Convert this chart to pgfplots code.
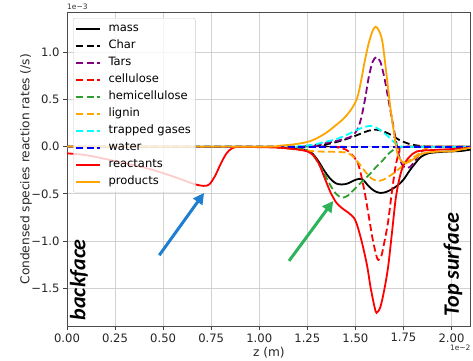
\documentclass[border=0pt]{standalone}
\usepackage{fontspec}
\setmainfont{DejaVu Sans}
\newfontfamily\handfont{Carlito}
\usepackage{pgfplots}
\pgfplotsset{compat=1.18}
\usetikzlibrary{arrows.meta}
\definecolor{mplorange}{HTML}{FFA500}
\definecolor{mplpurple}{HTML}{800080}
\definecolor{mplgreen}{HTML}{2E9E2E}
\definecolor{mplcyan}{HTML}{00FFFF}
\definecolor{mplblue}{HTML}{0000FF}
\definecolor{mplred}{HTML}{FF0000}
\definecolor{arrowblue}{HTML}{1E7FD0}
\definecolor{arrowgreen}{HTML}{2DB45A}
\begin{document}
\begin{tikzpicture}[x=1pt,y=1pt]
\path[use as bounding box] (0,0) rectangle (473,360);
\begin{axis}[
  name=ax,
  at={(67pt,34pt)}, anchor=south west,
  scale only axis, width=403.7pt, height=313.3pt,
  xmin=0, xmax=2.1, ymin=-1.9, ymax=1.42,
  xtick={0,0.25,0.5,0.75,1,1.25,1.5,1.75,2},
  xticklabels={0.00,0.25,0.50,0.75,1.00,1.25,1.50,1.75,2.00},
  ytick={-1.5,-1,-0.5,0,0.5,1},
  yticklabels={−1.5,−1.0,−0.5,0.0,0.5,1.0},
  tick label style={font=\fontsize{11.6}{14}\selectfont, text=black!85},
  tick align=outside, tick pos=left, major tick length=4pt,
  major tick style={black!75, line width=0.8pt},
  grid=major, major grid style={black!18, line width=1pt},
  axis line style={black!70, line width=0.8pt},
  xlabel={z (m)}, ylabel={Condensed species reaction rates (/s)},
  label style={font=\fontsize{12.2}{15}\selectfont, text=black!85},
  xlabel style={at={(rel axis cs:0.5,-0.084)}, anchor=center},
  ylabel style={at={(rel axis cs:-0.1016,0.5)}, anchor=center},
  legend cell align=left,
  legend style={at={(0.015,0.983)}, anchor=north west,
    font=\fontsize{11.5}{13}\selectfont,
    fill=white, fill opacity=0.8, draw opacity=1, text opacity=1,
    draw=black!20, rounded corners=2pt, inner sep=2pt,
    nodes={text height=9pt, text depth=3pt, inner sep=2.5pt},
    /tikz/every odd column/.append style={column sep=5pt}},
  legend image code/.code={\draw[#1] (0pt,0pt) -- (24pt,0pt);},
  every axis plot/.append style={line width=1.8pt},
  dashed/.style={dash pattern=on 7pt off 3.5pt},
]
% mass
\addplot[black, smooth] coordinates {(0,0) (1.0,0) (1.1,-0.01) (1.2,-0.02) (1.25,-0.04) (1.28,-0.08) (1.31,-0.16) (1.34,-0.26) (1.37,-0.34) (1.40,-0.39) (1.43,-0.40) (1.46,-0.39) (1.49,-0.36) (1.52,-0.34) (1.54,-0.35) (1.57,-0.42) (1.60,-0.47) (1.63,-0.49) (1.66,-0.48) (1.69,-0.45) (1.72,-0.41) (1.75,-0.35) (1.78,-0.26) (1.81,-0.18) (1.84,-0.11) (1.88,-0.07) (1.95,-0.055) (2.05,-0.045) (2.1,-0.03)};
\addlegendentry{mass}
% Char
\addplot[black, dashed, smooth] coordinates {(0,0) (1.25,0) (1.30,0.01) (1.36,0.03) (1.42,0.06) (1.48,0.10) (1.53,0.14) (1.57,0.17) (1.61,0.18) (1.65,0.16) (1.69,0.12) (1.73,0.07) (1.78,0.03) (1.83,0.01) (1.9,0) (2.1,0)};
\addlegendentry{Char}
% Tars
\addplot[mplpurple, dashed, smooth] coordinates {(0,0) (1.2,0) (1.25,0.01) (1.30,0.02) (1.35,0.04) (1.42,0.07) (1.48,0.11) (1.51,0.18) (1.53,0.30) (1.55,0.50) (1.57,0.74) (1.59,0.90) (1.61,0.95) (1.63,0.90) (1.65,0.74) (1.67,0.52) (1.69,0.30) (1.71,0.08) (1.73,-0.12) (1.75,-0.21) (1.78,-0.22) (1.81,-0.15) (1.84,-0.06) (1.88,-0.01) (1.95,0) (2.1,0)};
\addlegendentry{Tars}
% cellulose
\addplot[mplred, dashed, smooth] coordinates {(0,0) (1.35,0) (1.40,-0.005) (1.45,-0.03) (1.48,-0.08) (1.51,-0.16) (1.53,-0.30) (1.55,-0.50) (1.57,-0.74) (1.59,-0.98) (1.61,-1.16) (1.62,-1.20) (1.635,-1.16) (1.65,-1.02) (1.67,-0.80) (1.69,-0.48) (1.71,-0.20) (1.73,-0.05) (1.76,0) (2.1,0)};
\addlegendentry{cellulose}
% hemicellulose
\addplot[mplgreen, dashed, smooth] coordinates {(0,0) (1.15,0) (1.2,-0.01) (1.25,-0.04) (1.28,-0.09) (1.31,-0.18) (1.34,-0.29) (1.37,-0.41) (1.40,-0.50) (1.43,-0.54) (1.46,-0.52) (1.49,-0.46) (1.52,-0.40) (1.55,-0.34) (1.58,-0.28) (1.61,-0.21) (1.64,-0.15) (1.67,-0.08) (1.70,-0.03) (1.73,-0.005) (1.78,0) (2.1,0)};
\addlegendentry{hemicellulose}
% lignin
\addplot[mplorange, dashed, smooth] coordinates {(0,0) (1.0,0) (1.1,-0.01) (1.2,-0.03) (1.3,-0.05) (1.4,-0.055) (1.46,-0.065) (1.49,-0.11) (1.52,-0.18) (1.55,-0.26) (1.58,-0.33) (1.61,-0.36) (1.64,-0.355) (1.67,-0.32) (1.70,-0.28) (1.73,-0.23) (1.76,-0.18) (1.79,-0.13) (1.82,-0.09) (1.85,-0.04) (1.88,-0.01) (1.92,0) (2.1,0)};
\addlegendentry{lignin}
% trapped gases
\addplot[mplcyan, dashed, smooth] coordinates {(0,0) (1.15,0) (1.2,0.005) (1.28,0.02) (1.34,0.05) (1.40,0.08) (1.46,0.13) (1.51,0.18) (1.55,0.21) (1.58,0.22) (1.61,0.20) (1.64,0.16) (1.67,0.11) (1.70,0.05) (1.73,0.01) (1.76,0) (2.1,0)};
\addlegendentry{trapped gases}
% water
\addplot[mplblue, dashed] coordinates {(0,0) (1.0,0) (2.1,0)};
\addlegendentry{water}
% reactants
\addplot[mplred, smooth] coordinates {(0,-0.07) (0.1,-0.09) (0.2,-0.13) (0.3,-0.175) (0.4,-0.22) (0.5,-0.28) (0.6,-0.35) (0.66,-0.395) (0.71,-0.415) (0.74,-0.40) (0.77,-0.31) (0.80,-0.18) (0.83,-0.07) (0.86,-0.015) (0.9,0) (1.0,-0.005) (1.1,-0.01) (1.2,-0.03) (1.25,-0.05) (1.28,-0.09) (1.31,-0.18) (1.34,-0.33) (1.37,-0.48) (1.40,-0.59) (1.43,-0.65) (1.47,-0.71) (1.50,-0.78) (1.53,-0.98) (1.56,-1.25) (1.58,-1.50) (1.60,-1.70) (1.61,-1.76) (1.63,-1.70) (1.65,-1.52) (1.67,-1.28) (1.69,-0.92) (1.71,-0.55) (1.73,-0.33) (1.75,-0.20) (1.78,-0.11) (1.82,-0.05) (1.9,-0.035) (2.0,-0.025) (2.1,-0.01)};
\addlegendentry{reactants}
% products
\addplot[mplorange, smooth] coordinates {(0,0) (1.0,0) (1.1,0.01) (1.18,0.025) (1.25,0.05) (1.30,0.09) (1.35,0.15) (1.40,0.23) (1.44,0.30) (1.48,0.40) (1.51,0.52) (1.53,0.70) (1.55,0.92) (1.57,1.10) (1.59,1.23) (1.605,1.27) (1.62,1.24) (1.64,1.12) (1.66,0.80) (1.68,0.45) (1.70,0.16) (1.72,-0.08) (1.75,-0.17) (1.78,-0.16) (1.81,-0.12) (1.84,-0.08) (1.88,-0.06) (1.95,-0.05) (2.0,-0.05) (2.05,-0.03) (2.1,-0.01)};
\addlegendentry{products}
% annotations
\draw[arrowblue, line width=3pt, -{Triangle[length=11pt,width=11pt]}] (axis cs:0.48,-1.15) -- (axis cs:0.713,-0.49);
\draw[arrowgreen, line width=3pt, -{Triangle[length=11pt,width=11pt]}] (axis cs:1.155,-1.21) -- (axis cs:1.385,-0.575);
\node[rotate=90, font=\handfont\bfseries\itshape\fontsize{22}{26}\selectfont] at (axis cs:0.0625,-1.41) {backface};
\node[rotate=90, font=\handfont\bfseries\itshape\fontsize{22}{26}\selectfont] at (axis cs:2.008,-1.253) {Top surface};
\end{axis}
\node[anchor=south west, inner sep=0pt, font=\fontsize{7.5}{9}\selectfont, text=black!80] at ([yshift=3pt]ax.north west) {1e−3};
\node[anchor=north east, inner sep=0pt, font=\fontsize{7.5}{9}\selectfont, text=black!80] at ([yshift=-19pt]ax.south east) {1e−2};
\end{tikzpicture}
\end{document}
